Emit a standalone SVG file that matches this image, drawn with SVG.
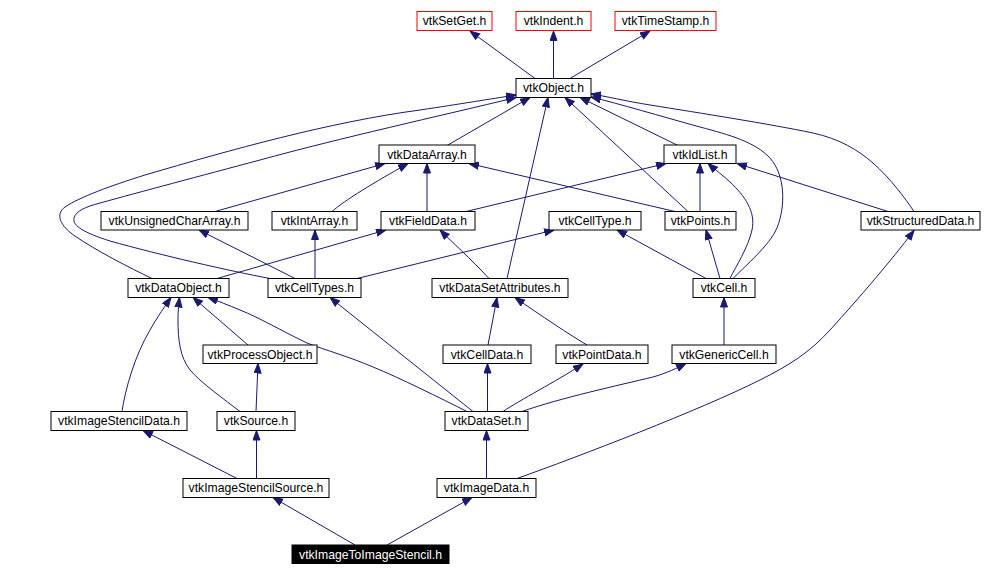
<svg xmlns="http://www.w3.org/2000/svg" width="984" height="576" viewBox="0 0 984 576">
<defs>
<marker id="ah" markerUnits="userSpaceOnUse" markerWidth="11" markerHeight="9" refX="10" refY="4" orient="auto">
<path d="M0.5,0.5 L10,4 L0.5,7.5 z" fill="#191970" stroke="#191970" stroke-width="1"/>
</marker>
<style>
.n rect{fill:#fff;stroke:#000;stroke-width:1}
.r rect{fill:#fff;stroke:#ff0000;stroke-width:1}
.b rect{fill:#000;stroke:#000;stroke-width:1}
text{font-family:"Liberation Sans",Arial,sans-serif;font-size:12.2px;text-anchor:middle;fill:#000}
.b text{fill:#fff}
#edges path{fill:none;stroke:#191970;stroke-width:1;marker-end:url(#ah)}
</style>
</defs>
<rect width="984" height="576" fill="#fff"/>
<g id="edges">
<path d="M535,78.5 L470,31"/>
<path d="M553.5,78.5 L553.5,31"/>
<path d="M570,78.5 L650,31"/>
<path d="M447,145.5 L530,97.5"/>
<path d="M152,278.5 C130,268 95,250 75,236 C60,226 55,214 65,207 C80,197 110,186 145,175 C230,150 330,122 420,110 C460,104 490,99 516,95"/>
<path d="M270,278.5 C230,271 160,255 110,241 C85,233 72,226 74,218 C76,211 85,207 100,203 C140,192 200,176 260,160 C340,138 440,116 516,97.5"/>
<path d="M507,278.5 L548,97.5"/>
<path d="M688,211.5 L565,97.5"/>
<path d="M678,145.5 L580,97.5"/>
<path d="M733,278.5 C745,266 770,245 777,228 C786,205 785,175 770,158 C755,142 730,135 700,127 C660,116 620,104 591,97"/>
<path d="M914,211.5 C905,198 890,178 873,163 C858,150 840,139 813,133 C770,124 700,113 650,105 C625,101 605,96 591,94"/>
<path d="M215,211.5 L385,163.5"/>
<path d="M332,211.5 C345,200 375,182 408,163.5"/>
<path d="M427,211.5 L427,163.5"/>
<path d="M675,211.5 L469,163.5"/>
<path d="M466,211.5 L666,163.5"/>
<path d="M700,211.5 L700,163.5"/>
<path d="M730,278.5 C736,266 748,248 752,230 C756,212 745,196 730,182 C720,173 712,167 708,163.5"/>
<path d="M888,211.5 L737,163.5"/>
<path d="M295,278.5 L199,230"/>
<path d="M315,278.5 L315,230"/>
<path d="M217,278.5 L386,230"/>
<path d="M357,278.5 L554,230"/>
<path d="M489,278.5 C470,258 452,242 440,230"/>
<path d="M706,278.5 L617,230"/>
<path d="M720,278.5 L706,230"/>
<path d="M517,478.5 C580,456 700,410 760,380 C790,365 810,352 830,330 C860,297 890,262 914,230.5"/>
<path d="M122,411.5 C125,390 135,355 150,330 C158,316 165,306 171,297.5"/>
<path d="M240,411.5 C225,400 200,382 190,370 C180,357 178,340 178,320 C178,310 179,302 179.5,297.5"/>
<path d="M248,345 L193,297.5"/>
<path d="M467,411.5 C440,398 400,378 373,367 C350,357 325,350 307,343 C280,330 260,318 240,310 C228,305 218,301 208,297.5"/>
<path d="M473,411.5 L330,297.5"/>
<path d="M488,345 L497,297.5"/>
<path d="M587,345 C570,335 540,315 515,297.5"/>
<path d="M724,345 L724,297.5"/>
<path d="M256,411.5 L258,363.5"/>
<path d="M487.5,411.5 L487.5,363.5"/>
<path d="M503,411.5 C520,400 555,382 583,364"/>
<path d="M522,411.5 C560,398 620,385 653,377 C667,373 677,368 686,363.5"/>
<path d="M237,478.5 L143,430.5"/>
<path d="M256.5,478.5 L256.5,430.5"/>
<path d="M486.5,478.5 L486.5,430.5"/>
<path d="M355,545 L273,497.5"/>
<path d="M387,545 L472,497.5"/>
</g>
<g id="vtkSetGet" class="r"><rect x="417" y="11.5" width="75" height="19"/><text x="454.5" y="25">vtkSetGet.h</text></g>
<g id="vtkIndent" class="r"><rect x="516" y="11.5" width="75" height="19"/><text x="553.5" y="25">vtkIndent.h</text></g>
<g id="vtkTimeStamp" class="r"><rect x="615" y="11.5" width="101" height="19"/><text x="665.5" y="25">vtkTimeStamp.h</text></g>
<g id="vtkObject" class="n"><rect x="516" y="78.5" width="75" height="19"/><text x="553.5" y="92">vtkObject.h</text></g>
<g id="vtkDataArray" class="n"><rect x="379" y="145" width="96" height="18.5"/><text x="427" y="158.5">vtkDataArray.h</text></g>
<g id="vtkIdList" class="n"><rect x="664" y="145" width="72" height="18.5"/><text x="700" y="158.5">vtkIdList.h</text></g>
<g id="vtkUnsignedCharArray" class="n"><rect x="101" y="211.5" width="147" height="18.5"/><text x="174.5" y="225">vtkUnsignedCharArray.h</text></g>
<g id="vtkIntArray" class="n"><rect x="272" y="211.5" width="85" height="18.5"/><text x="314.5" y="225">vtkIntArray.h</text></g>
<g id="vtkFieldData" class="n"><rect x="381" y="211.5" width="94" height="18.5"/><text x="428" y="225">vtkFieldData.h</text></g>
<g id="vtkCellType" class="n"><rect x="549" y="211.5" width="92" height="18.5"/><text x="595" y="225">vtkCellType.h</text></g>
<g id="vtkPoints" class="n"><rect x="665" y="211.5" width="71" height="18.5"/><text x="700.5" y="225">vtkPoints.h</text></g>
<g id="vtkStructuredData" class="n"><rect x="861" y="211.5" width="119" height="18.5"/><text x="920.5" y="225">vtkStructuredData.h</text></g>
<g id="vtkDataObject" class="n"><rect x="128" y="278.5" width="101" height="19"/><text x="178.5" y="292">vtkDataObject.h</text></g>
<g id="vtkCellTypes" class="n"><rect x="268" y="278.5" width="93" height="19"/><text x="314.5" y="292">vtkCellTypes.h</text></g>
<g id="vtkDataSetAttributes" class="n"><rect x="432" y="278.5" width="136" height="19"/><text x="500" y="292">vtkDataSetAttributes.h</text></g>
<g id="vtkCell" class="n"><rect x="693" y="278.5" width="62" height="19"/><text x="724" y="292">vtkCell.h</text></g>
<g id="vtkProcessObject" class="n"><rect x="203" y="345" width="114" height="18.5"/><text x="260" y="358.5">vtkProcessObject.h</text></g>
<g id="vtkCellData" class="n"><rect x="443" y="345" width="88" height="18.5"/><text x="487" y="358.5">vtkCellData.h</text></g>
<g id="vtkPointData" class="n"><rect x="556" y="345" width="92" height="18.5"/><text x="602" y="358.5">vtkPointData.h</text></g>
<g id="vtkGenericCell" class="n"><rect x="672" y="345" width="104" height="18.5"/><text x="724" y="358.5">vtkGenericCell.h</text></g>
<g id="vtkImageStencilData" class="n"><rect x="51" y="411.5" width="136" height="19"/><text x="119" y="425">vtkImageStencilData.h</text></g>
<g id="vtkSource" class="n"><rect x="217" y="411.5" width="78" height="19"/><text x="256" y="425">vtkSource.h</text></g>
<g id="vtkDataSet" class="n"><rect x="445" y="411.5" width="83" height="19"/><text x="486.5" y="425">vtkDataSet.h</text></g>
<g id="vtkImageStencilSource" class="n"><rect x="183" y="478.5" width="146" height="19"/><text x="256" y="492">vtkImageStencilSource.h</text></g>
<g id="vtkImageData" class="n"><rect x="437" y="478.5" width="99" height="19"/><text x="486.5" y="492">vtkImageData.h</text></g>
<g id="vtkImageToImageStencil" class="b"><rect x="292" y="545" width="157" height="18.5"/><text x="370.5" y="558.5">vtkImageToImageStencil.h</text></g>
</svg>
